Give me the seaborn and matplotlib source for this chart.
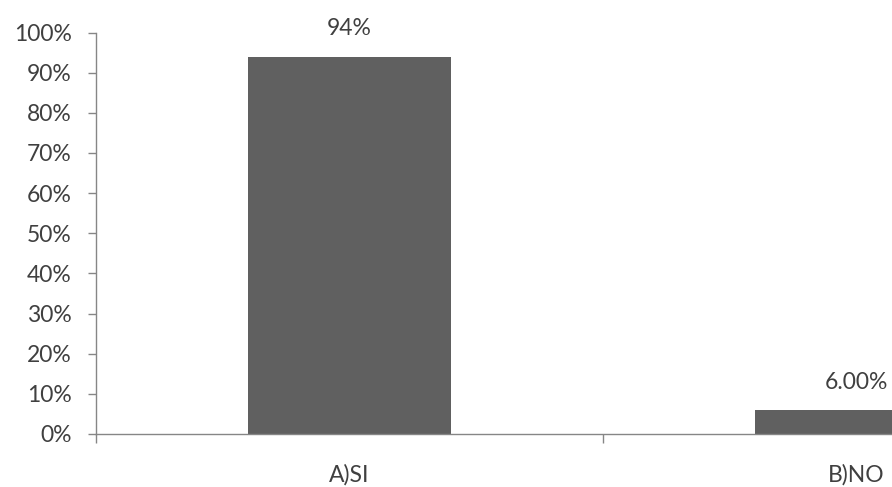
import matplotlib
matplotlib.use("Agg")
import matplotlib.pyplot as plt
import seaborn as sns
import pandas as pd
from matplotlib.ticker import FixedLocator, PercentFormatter

categories = ["A)SI", "B)NO"]
values = [0.94, 0.06]
value_labels = ["94%", "6.00%"]
y_ticks = [0.0, 0.1, 0.2, 0.3, 0.4, 0.5, 0.6, 0.7, 0.8, 0.9, 1.0]

sns.set_theme(style="white")
plt.rcParams["font.family"] = ["Lato", "DejaVu Sans"]

text_color = "#404040"
axis_color = "#868686"
bar_color = "#606060"
fs = 16.5

df = pd.DataFrame({"categoria": categories, "valor": values})

W, H = 892, 487
fig = plt.figure(figsize=(W / 100, H / 100), dpi=100)
left_px, right_px = 95.5, 892
bottom_px, top_px = 434, 32.5
ax = fig.add_axes([left_px / W, (H - bottom_px) / H,
                   (right_px - left_px) / W, (bottom_px - top_px) / H])

sns.barplot(data=df, x="categoria", y="valor", color=bar_color,
            width=0.4, saturation=1, ax=ax, edgecolor="none")

cat_w = 602.7 - 95.5
ax.set_xlim(-0.5, -0.5 + (right_px - left_px) / cat_w)
ax.set_ylim(0, 1)

ax.bar_label(ax.containers[0], labels=value_labels, padding=12.5,
             fontsize=fs, color=text_color)

# spines
for s in ["top", "right"]:
    ax.spines[s].set_visible(False)
for s in ["left", "bottom"]:
    ax.spines[s].set_color(axis_color)
    ax.spines[s].set_linewidth(1.0)

# y axis
ax.yaxis.set_major_locator(FixedLocator(y_ticks))
ax.yaxis.set_major_formatter(PercentFormatter(1.0, decimals=0))
ax.tick_params(axis="y", which="major", left=True, length=6, width=1,
               color=axis_color, labelsize=fs, labelcolor=text_color, pad=11)

# x axis: labels at category centres, tick marks at category boundaries
ax.xaxis.set_minor_locator(FixedLocator([-0.5, 0.5]))
ax.tick_params(axis="x", which="major", bottom=True, length=0,
               labelsize=fs, labelcolor=text_color, pad=21.5)
ax.tick_params(axis="x", which="minor", bottom=True, length=6.5, width=1,
               color=axis_color)
ax.set_xlabel("")
ax.set_ylabel("")

fig.savefig("out.png", dpi=100)
